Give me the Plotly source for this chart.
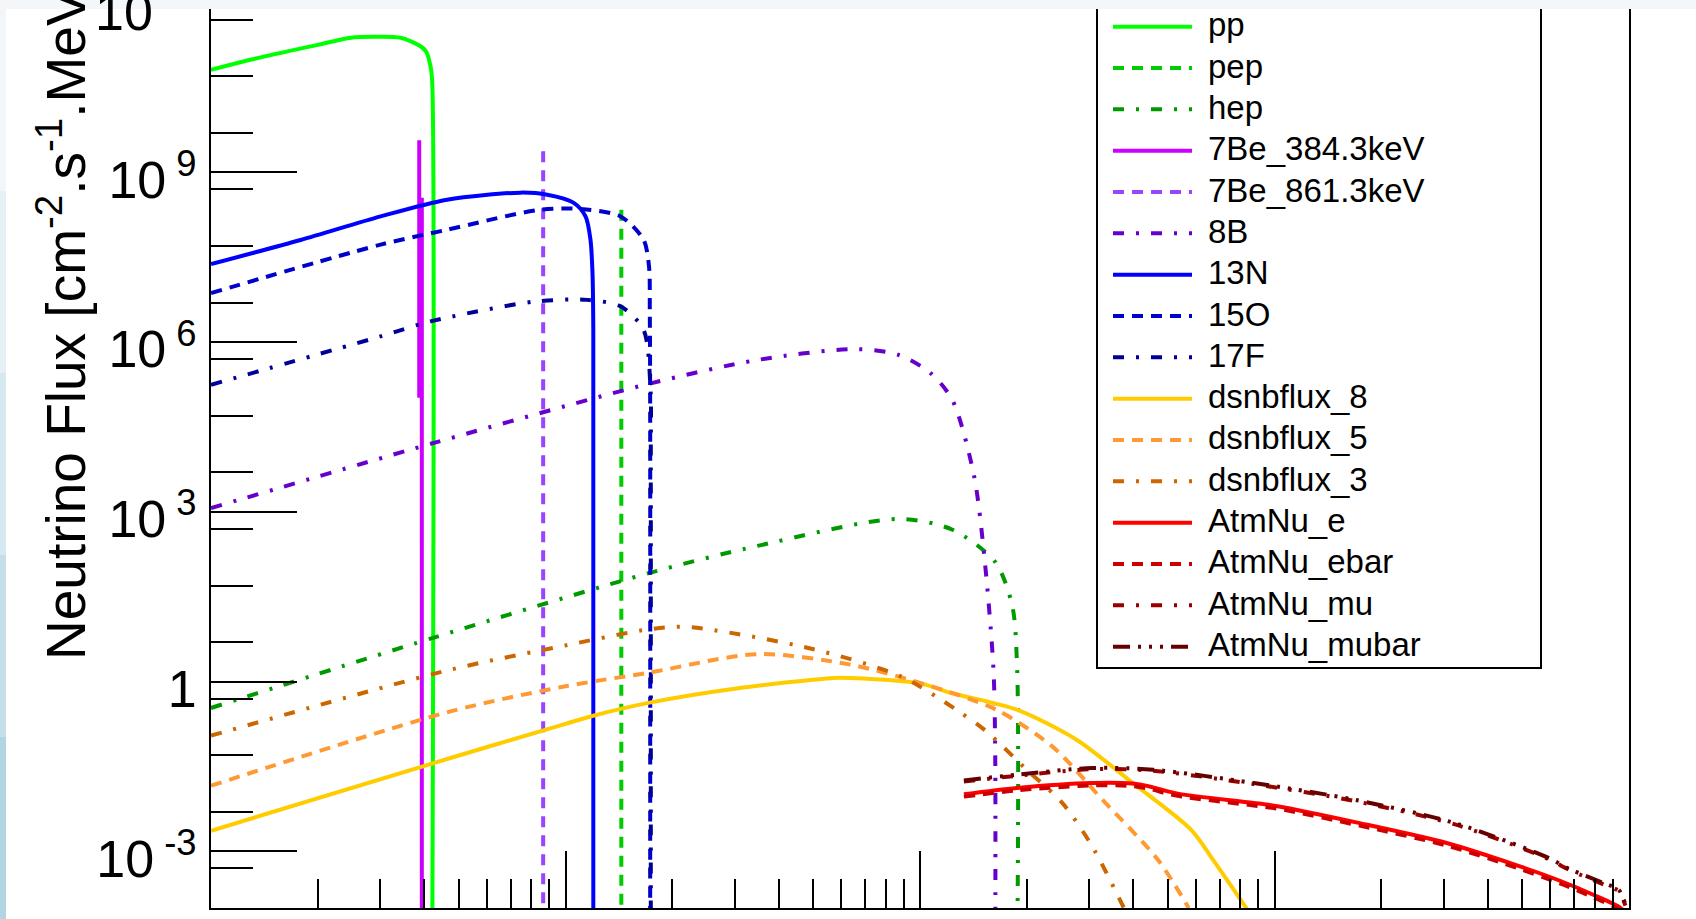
import plotly.graph_objects as go

# ---------------- data (energy in MeV, flux in cm^-2 s^-1 MeV^-1) ----------------
pp_E = [0.1, 0.129, 0.2, 0.248, 0.288, 0.343, 0.39, 0.405, 0.4163, 0.4207, 0.4207]
pp_F = [6.5e10, 9.8e10, 1.8e11, 2.4e11, 2.5e11, 2.4e11, 1.7e11, 1.35e11, 7.4e10, 4.0e10, 1e-5]

pep_E = [1.437, 1.437]
pep_F = [2.2e8, 1e-5]

hep_E = [0.1, 0.423, 1.726, 3.48, 8.68, 12.34, 16.3, 18.2, 18.8, 18.8]
hep_F = [0.343, 5.96, 83.6, 251, 753, 485, 130, 22.3, 1.58, 1e-5]

be384_E = [0.3867, 0.3867, 0.3867, 0.3933, 0.3933]
be384_F = [1.04e5, 3.7e9, 3.3e8, 3.3e8, 1e-5]

be861_E = [0.865, 0.865]
be861_F = [2.36e9, 1e-5]

b8_E = [0.1, 0.423, 1.726, 3.48, 6.56, 8.68, 10.7, 12.34, 14.2, 15.24, 16.12, 16.3, 16.3]
b8_F = [1.17e3, 1.64e4, 1.85e5, 4.86e5, 7.55e5, 6.0e5, 2.86e5, 9.5e4, 4.4e3, 130, 1.6, 0.047, 1e-5]

n13_E = [0.1, 0.179, 0.301, 0.463, 0.746, 0.888, 1.055, 1.139, 1.176, 1.192, 1.198, 1.198]
n13_F = [2.4e7, 6.4e7, 1.67e8, 3.3e8, 4.4e8, 4.05e8, 2.9e8, 1.67e8, 6.5e7, 1.6e7, 1.6e6, 1e-5]

o15_E = [0.1, 0.301, 0.463, 0.85, 1.10, 1.43, 1.66, 1.72, 1.729, 1.733, 1.733]
o15_F = [7.4e6, 5.3e7, 9.7e7, 2.2e8, 2.26e8, 1.67e8, 6.5e7, 2.2e7, 3.2e6, 1e5, 1e-5]

f17_E = [0.1, 0.301, 0.416, 0.814, 1.15, 1.43, 1.66, 1.737, 1.74, 1.74]
f17_F = [1.77e5, 1.27e6, 2.33e6, 5.2e6, 5.6e6, 4.3e6, 1.66e6, 1.45e5, 1e4, 1e-5]

dsnb8_E = [0.1, 0.4737, 1.0, 1.198, 1.726, 3.0, 5.7, 6.37, 10, 12.25, 18.75, 27.7, 39.8, 58.2, 67.1, 84.1]
dsnb8_F = [2.32e-3, 0.0448, 0.18, 0.25, 0.426, 0.75, 1.167, 1.161, 0.933, 0.631, 0.32, 0.0933,
           0.0162, 2.4e-3, 7.1e-4, 9.1e-5]

dsnb5_E = [0.1, 0.4737, 1.0, 1.726, 3.48, 6.37, 10.4, 16.4, 23.6, 32.7, 46.9, 57.3]
dsnb5_F = [0.0145, 0.2985, 0.83, 1.45, 3.07, 2.0, 0.885, 0.32, 0.0718, 8.2e-3, 7.1e-4, 1e-4]

dsnb3_E = [0.1, 0.4737, 1.0, 1.726, 2.21, 4.94, 8.83, 12.65, 15.4, 20.0, 25.2, 30.6, 37.6]
dsnb3_F = [0.111, 1.63, 4.37, 8.47, 9.25, 3.83, 1.24, 0.32, 0.132, 0.0278, 7.2e-3, 1.23e-3, 1e-4]

atm_E = [13.3, 18.75, 30.6, 39.8, 45.0, 50.0, 54.7, 87.3, 102, 174, 306, 490, 641, 796, 944, 970]
atm_e_F = [0.0102, 0.0132, 0.0162, 0.0158, 0.0138, 0.0115, 0.0102, 7.2e-3, 6.3e-3, 3.16e-3,
           1.41e-3, 5.5e-4, 3.0e-4, 1.7e-4, 1.02e-4, 8.5e-5]
atm_ebar_F = [0.0093, 0.0120, 0.0147, 0.0143, 0.0125, 0.0104, 0.0093, 6.5e-3, 5.7e-3, 2.86e-3,
              1.27e-3, 4.95e-4, 2.7e-4, 1.53e-4, 9.2e-5, 7.6e-5]

atmmu_E = [13.3, 18.75, 30.6, 45.4, 87.3, 168, 323, 582, 684, 849, 935, 977]
atm_mu_F = [0.0172, 0.0217, 0.0285, 0.0266, 0.0155, 7.8e-3, 3.0e-3, 7.7e-4, 4.6e-4, 2.6e-4, 2.0e-4, 1.1e-4]
atm_mubar_F = [0.018, 0.0227, 0.0298, 0.0278, 0.0162, 8.2e-3, 3.16e-3, 8.1e-4, 4.8e-4, 2.75e-4, 2.1e-4, 1.15e-4]

names = ["pp", "pep", "hep", "7Be_384.3keV", "7Be_861.3keV", "8B", "13N", "15O", "17F",
         "dsnbflux_8", "dsnbflux_5", "dsnbflux_3", "AtmNu_e", "AtmNu_ebar", "AtmNu_mu", "AtmNu_mubar"]
colors = ["#00ff00", "#00cc00", "#009900", "#cc00ff", "#9944ff", "#6600cc", "#0000ff", "#0000cc",
          "#000099", "#ffcc00", "#ff9933", "#cc6600", "#ff0000", "#cc0000", "#990000", "#660000"]

SOLID = "solid"
DASH = "11px,8px"
DASHDOT = "11px,12px,3px,12px"
DASH3DOT = "17px,8px,3px,8px,3px,8px,3px,8px"
dashes = [SOLID, DASH, DASHDOT, SOLID, DASH, DASHDOT, SOLID, DASH, DASHDOT,
          SOLID, DASH, DASHDOT, SOLID, DASH, DASHDOT, DASH3DOT]
smooth = [True, False, True, False, False, True, True, True, True,
          True, True, True, True, True, True, True]

xs = [pp_E, pep_E, hep_E, be384_E, be861_E, b8_E, n13_E, o15_E, f17_E,
      dsnb8_E, dsnb5_E, dsnb3_E, atm_E, atm_E, atmmu_E, atmmu_E]
ys = [pp_F, pep_F, hep_F, be384_F, be861_F, b8_F, n13_F, o15_F, f17_F,
      dsnb8_F, dsnb5_F, dsnb3_F, atm_e_F, atm_ebar_F, atm_mu_F, atm_mubar_F]

ylabel_exp = [-3, 0, 3, 6, 9]
yplain_exp = [-4, -2, -1, 1, 2, 4, 5, 7, 8, 10, 11]

# ---------------- layout geometry ----------------
W, H = 1696, 919
ML, MR, MT, MB = 211, 67, 9, 11
PW, PH = W - ML - MR, H - MT - MB
DEC_Y = 56.58
YMAX = -4 + PH / DEC_Y
FONT = "Liberation Sans, Arial, Helvetica, sans-serif"
LW = 4


def px(xp):
    return (xp - ML) / PW


def py(yp):
    return (H - MB - yp) / PH


fig = go.Figure()
for n, x, y, c, d, s in zip(names, xs, ys, colors, dashes, smooth):
    fig.add_trace(go.Scatter(x=x, y=y, mode="lines", name=n, showlegend=False,
                             line=dict(color=c, width=LW, dash=d,
                                       shape="spline" if s else "linear", smoothing=0.8)))


def ylab(e):
    if e == 0:
        return "1"
    return "10<sup>\u00a0%d</sup>" % e


xmajor = [0.1, 1, 10, 100, 1000]
xminor = [m * d for d in [0.1, 1, 10, 100] for m in range(2, 10)]

fig.update_xaxes(type="log", range=[-1, 3], showline=True, linecolor="black", linewidth=2,
                 mirror=False, showgrid=False, zeroline=False, ticks="inside",
                 tickmode="array", tickvals=xmajor, ticklen=57, tickwidth=2, tickcolor="black",
                 showticklabels=False,
                 minor=dict(tickmode="array", tickvals=xminor, ticks="inside", ticklen=29,
                            tickwidth=2, tickcolor="black", showgrid=False))

fig.update_layout(
    yaxis=dict(type="log", range=[-4, YMAX], showline=True, linecolor="black", linewidth=2,
               mirror=True, showgrid=False, zeroline=False, ticks="inside",
               tickmode="array", tickvals=[10.0 ** e for e in ylabel_exp],
               ticktext=[ylab(e) for e in ylabel_exp],
               ticklen=86, tickwidth=2, tickcolor="black", ticklabelstandoff=2,
               ticklabelshift=7,
               tickfont=dict(family=FONT, size=52, color="black"),
               minor=dict(tickmode="array", tickvals=[0.5 * 10.0 ** e for e in range(-3, 13)],
                          ticks="inside", ticklen=42, tickwidth=2, tickcolor="black",
                          showgrid=False)),
    yaxis2=dict(type="log", range=[-4, YMAX], overlaying="y", anchor="x", side="left",
                showline=False, showgrid=False, zeroline=False, ticks="inside",
                tickmode="array", tickvals=[10.0 ** e for e in yplain_exp],
                ticklen=86, tickwidth=2, tickcolor="black", showticklabels=False),
)

shapes = []
annotations = []

# legend (ROOT TLegend style)
shapes.append(dict(type="rect", xref="paper", yref="paper", x0=px(1097), x1=px(1541),
                   y0=py(668), y1=py(-30), line=dict(color="black", width=2),
                   fillcolor="white", layer="above"))
for i, (n, c, d) in enumerate(zip(names, colors, dashes)):
    yc = 26.7 + 41.33 * i
    shapes.append(dict(type="line", xref="paper", yref="paper", x0=px(1113), x1=px(1192),
                       y0=py(yc), y1=py(yc), line=dict(color=c, width=LW, dash=d),
                       layer="above"))
    annotations.append(dict(text=n, xref="paper", yref="paper", x=px(1206), y=py(yc - 2),
                            xanchor="left", yanchor="middle", showarrow=False,
                            font=dict(family=FONT, size=33, color="black")))

# y-axis title (cropped at the top like the reference)
annotations.append(dict(text="Neutrino Flux [cm<sup>-2</sup>.s<sup>-1</sup>.MeV<sup>-1</sup>]",
                        xref="paper", yref="paper", x=px(62), y=py(662), textangle=-90,
                        xanchor="center", yanchor="bottom", showarrow=False,
                        font=dict(family=FONT, size=55, color="black")))
# partially visible top tick label (its exponent lies above the visible area)
annotations.append(dict(text="10", xref="paper", yref="paper", x=px(155),
                        y=py(12), xanchor="right", yanchor="middle", showarrow=False,
                        font=dict(family=FONT, size=52, color="black")))

# window border strips of the screenshot
shapes.append(dict(type="rect", xref="paper", yref="paper", x0=px(0), x1=px(W), y0=py(9),
                   y1=py(-5), line=dict(width=0), fillcolor="#f3f7fa", layer="above"))
strip_cols = ["#f1f6f9", "#e6f0f5", "#d6e8f0", "#c4deea", "#b3d4e3"]
for k, sc in enumerate(strip_cols):
    shapes.append(dict(type="rect", xref="paper", yref="paper", x0=px(-1), x1=px(6),
                       y0=py(9 + (k + 1) * 182), y1=py(9 + k * 182), line=dict(width=0),
                       fillcolor=sc, layer="above"))

fig.update_layout(width=W, height=H, margin=dict(l=ML, r=MR, t=MT, b=MB, pad=0),
                  paper_bgcolor="white", plot_bgcolor="white", showlegend=False,
                  shapes=shapes, annotations=annotations,
                  font=dict(family=FONT, color="black"))

fig.write_html("out.html")
